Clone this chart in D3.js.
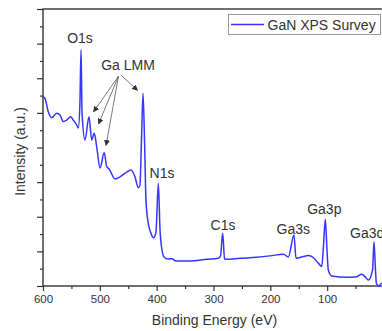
<!DOCTYPE html>
<html>
<head>
<meta charset="utf-8">
<script src="https://cdn.jsdelivr.net/npm/d3@7"></script>
<style>
  body { margin: 0; background: #fff; }
  svg { display: block; font-family: "Liberation Sans", Arial, sans-serif; }
</style>
</head>
<body>
<div id="chart"></div>
<script>
// binding energy (eV) and intensity (a.u.)
const energy = [600, 596.5, 590.7, 584.7, 575.9, 570.1, 564.3, 558.3, 551.3, 546.7, 540.7, 537.9, 535, 533.1, 531.3,
  526.1, 519.1, 514.3, 509.9, 505.5, 499.7, 492.3, 487.9, 483.3, 473.3, 464.5, 452.7, 445.2, 438.1, 432.3,
  429.5, 426.7, 424, 421.4, 418.8, 415.2, 410.8, 405.6, 401.2, 397.1, 394.1, 390.6, 387.1, 380.1, 373, 366,
  341.3, 312, 291.5, 287.7, 283.8, 280.6, 278, 253.4, 224, 200.6, 177.2, 168.4, 158.4, 154.8, 142, 133.7,
  126.7, 115.6, 109.6, 106.4, 103.3, 100.3, 98, 92, 65.6, 48, 39.2, 33.4, 27.6, 20.2, 17.6, 15, 13.2, 8.8, 4.4, 0];
const intensity = [5.47, 5.42, 5.03, 4.86, 4.99, 4.94, 4.75, 4.79, 4.89, 4.79, 4.65, 4.56, 5.3, 6.82, 5.0,
  4.22, 4.89, 4.22, 4.41, 4.02, 3.41, 3.85, 3.45, 3.37, 3.09, 3.15, 3.29, 3.35, 3.15, 2.84,
  2.9, 4.22, 5.57, 4.22, 2.48, 1.85, 1.56, 1.39, 1.56, 2.97, 1.62, 1.04, 0.84, 0.78, 0.79, 0.72,
  0.72, 0.77, 0.80, 0.87, 1.52, 0.79, 0.77, 0.80, 0.83, 0.87, 0.92, 0.84, 1.47, 0.80, 0.85, 0.88,
  0.85, 0.66, 0.56, 1.18, 1.93, 1.04, 0.46, 0.29, 0.25, 0.27, 0.34, 0.27, 0.17, 0.46, 1.28, 0.46, 0.06, 0, 0.07, 0.06];

const xTicks = [600, 500, 400, 300, 200, 100];
const seriesName = "GaN XPS Survey";

// peak labels: text, energy, intensity of baseline, anchor
const peakNames = ["O1s", "Ga LMM", "N1s", "C1s", "Ga3s", "Ga3p", "Ga3d"];
const peakE = [534.9, 450.4, 390.6, 283.3, 159.6, 105, 59.8];
const peakI = [7.01, 6.24, 3.12, 1.62, 1.50, 2.07, 1.39];
const peakAnchor = ["middle", "middle", "middle", "middle", "middle", "middle", "start"];

// Ga LMM arrows: start and tip (energy, intensity)
const arrowFrom = [[467.1, 6.06], [467.1, 6.06], [467.1, 6.06], [462.7, 6.09]];
const arrowTo = [[511.1, 5.03], [502.3, 4.68], [489.1, 4.06], [433.7, 5.65]];

const W = 382, H = 331;
const margin = { top: 9, left: 43 };
const plotW = 341, plotH = 277;

const svg = d3.select("#chart").append("svg")
  .attr("width", W).attr("height", H);

const x = d3.scaleLinear().domain([600, 0]).range([margin.left, margin.left + plotW]);
const y = d3.scaleLinear().domain([0, 8]).range([margin.top + plotH, margin.top]);

const axisColor = "#333";

// minor ticks
svg.append("g")
  .attr("transform", `translate(0,${margin.top + plotH})`)
  .call(d3.axisBottom(x).tickValues(d3.range(50, 600, 100)).tickSize(3).tickFormat(""))
  .call(g => g.select(".domain").remove());
svg.append("g")
  .attr("transform", `translate(${margin.left},0)`)
  .call(d3.axisLeft(y).tickValues(d3.range(0.5, 8, 1)).tickSize(3).tickFormat(""))
  .call(g => g.select(".domain").remove());

// major ticks
const xAxis = svg.append("g")
  .attr("transform", `translate(0,${margin.top + plotH})`)
  .call(d3.axisBottom(x).tickValues(xTicks).tickSize(5).tickPadding(4))
  .call(g => g.select(".domain").remove());
xAxis.selectAll("text").attr("font-size", "11.5px").attr("fill", "#333")
  .attr("font-family", "Liberation Sans, Arial, sans-serif");

svg.append("g")
  .attr("transform", `translate(${margin.left},0)`)
  .call(d3.axisLeft(y).tickValues(d3.range(0, 9, 1)).tickSize(6).tickFormat(""))
  .call(g => g.select(".domain").remove());

svg.selectAll(".tick line").attr("stroke", axisColor).attr("stroke-width", 1.2);

// frame
svg.append("rect")
  .attr("x", margin.left).attr("y", margin.top)
  .attr("width", plotW).attr("height", plotH)
  .attr("fill", "none").attr("stroke", axisColor).attr("stroke-width", 1.4);

// spectrum
const data = energy.map((e, i) => ({ e, v: intensity[i] }));
svg.append("path")
  .datum(data)
  .attr("fill", "none")
  .attr("stroke", "#3535ff")
  .attr("stroke-width", 1.5)
  .attr("stroke-linejoin", "round")
  .attr("d", d3.line().x(d => x(d.e)).y(d => y(d.v)).curve(d3.curveMonotoneX));

// arrows
svg.append("defs").append("marker")
  .attr("id", "head")
  .attr("viewBox", "0 0 10 10")
  .attr("refX", 9).attr("refY", 5)
  .attr("markerWidth", 6).attr("markerHeight", 6)
  .attr("markerUnits", "userSpaceOnUse")
  .attr("orient", "auto")
  .append("path").attr("d", "M0,0 L10,5 L0,10 z").attr("fill", "#333");

svg.append("g").selectAll("line")
  .data(arrowFrom)
  .join("line")
  .attr("x1", d => x(d[0])).attr("y1", d => y(d[1]))
  .attr("x2", (d, i) => x(arrowTo[i][0])).attr("y2", (d, i) => y(arrowTo[i][1]))
  .attr("stroke", "#555").attr("stroke-width", 0.8)
  .attr("marker-end", "url(#head)");

// peak labels
svg.append("g").selectAll("text")
  .data(peakNames)
  .join("text")
  .attr("x", (d, i) => x(peakE[i]))
  .attr("y", (d, i) => y(peakI[i]))
  .attr("text-anchor", (d, i) => peakAnchor[i])
  .attr("font-size", "14px")
  .attr("fill", "#333")
  .text(d => d);

// legend
const lg = svg.append("g");
lg.append("rect")
  .attr("x", 228.5).attr("y", 14.5).attr("width", 152).attr("height", 20)
  .attr("fill", "#fff").attr("stroke", "#999").attr("stroke-width", 1);
lg.append("line")
  .attr("x1", 231).attr("x2", 264).attr("y1", 24.5).attr("y2", 24.5)
  .attr("stroke", "#3535ff").attr("stroke-width", 1.5);
lg.append("text")
  .attr("x", 267.5).attr("y", 29.5)
  .attr("font-size", "14px").attr("fill", "#333")
  .text(seriesName);

// axis titles
svg.append("text")
  .attr("x", margin.left + plotW / 2 + 1).attr("y", 325)
  .attr("text-anchor", "middle").attr("font-size", "14px").attr("fill", "#333")
  .text("Binding Energy (eV)");

svg.append("text")
  .attr("transform", `translate(25,${margin.top + plotH / 2 + 4}) rotate(-90)`)
  .attr("text-anchor", "middle").attr("font-size", "14px").attr("fill", "#333")
  .text("Intensity (a.u.)");
</script>
</body>
</html>
